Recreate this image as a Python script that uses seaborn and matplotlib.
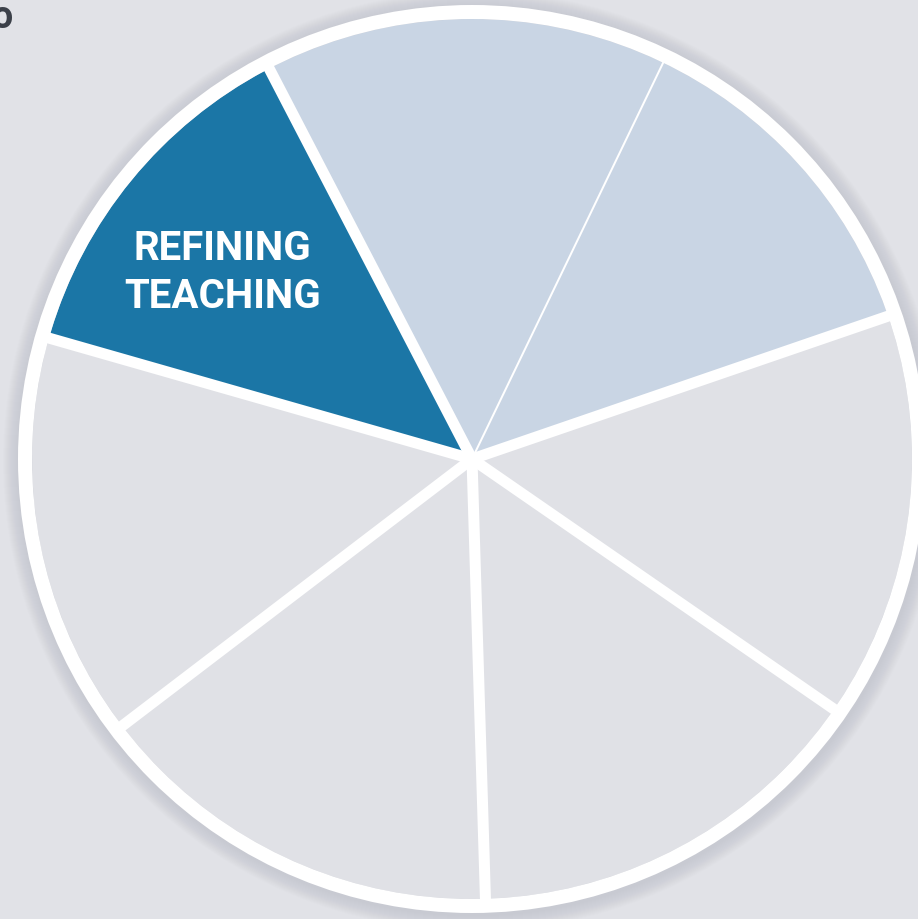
import numpy as np
import matplotlib
matplotlib.use("Agg")
import matplotlib.pyplot as plt
import seaborn as sns
from matplotlib.patches import Circle

# ---- data ----
segments = ["Refining teaching", "Segment 2", "Segment 3", "Segment 4",
            "Segment 5", "Segment 6", "Segment 7"]
shares = [46.6, 53.2, 45.3, 53.6, 53.6, 54.4, 53.3]   # degrees of the wheel
labels = ["REFINING\nTEACHING", "", "", "", "", "", ""]
title_fragment = "o"

# ---- style ----
bg = "#e1e2e7"
colors = ["#1b76a6", "#c9d5e4", "#c9d5e4", "#e0e1e6", "#e0e1e6", "#e0e1e6", "#e0e1e6"]
boundary_widths_px = [11, 11, 2, 11, 11, 11, 11]  # boundary at start of each segment

sns.set_theme(style="white")
plt.rcParams['font.family'] = ['Roboto', 'DejaVu Sans']

W, H = 918, 920
fig = plt.figure(figsize=(W / 100, H / 100), dpi=100, facecolor=bg)
ax = fig.add_axes([0, 0, 1, 1])
ax.set_facecolor(bg)
PX = 0.72  # points per pixel at 100 dpi

cx, cy = 472, H - 460
R = 440
ring_w = 14

# soft shadow
for i in range(16):
    ax.add_patch(Circle((cx + 1, cy - 2), R + ring_w + 16 - i, facecolor="#7a7d88",
                        edgecolor="none", alpha=0.012, zorder=1))

start = 164.05
wedges, texts = ax.pie(shares, colors=colors, labels=labels, startangle=start,
                       counterclock=False, radius=R, center=(cx, cy),
                       labeldistance=0.715, frame=True,
                       wedgeprops=dict(linewidth=0, edgecolor="white", zorder=2),
                       textprops=dict(color="white", fontsize=29, fontweight="bold",
                                      linespacing=1.36))
for t in texts:
    t.set_ha("center")
    t.set_va("center")
    t.set_zorder(5)
    x, y = t.get_position()
    if t.get_text():
        t.set_position((x - 6, y - 12))

# radial separators derived from cumulative shares
bounds = start - np.concatenate([[0], np.cumsum(shares)[:-1]])
for ang, lw in zip(bounds, boundary_widths_px):
    a = np.deg2rad(ang)
    ax.plot([cx, cx + (R + 2) * np.cos(a)], [cy, cy + (R + 2) * np.sin(a)],
            color="white", lw=lw * PX, solid_capstyle="butt", zorder=3)

# outer white ring
ax.add_patch(Circle((cx, cy), R + ring_w / 2, facecolor="none", edgecolor="white",
                    lw=ring_w * PX, zorder=4))

ax.text(13, H - 18, title_fragment, ha="right", va="center", fontsize=27,
        fontweight="bold", color="#3b4049", family=["Roboto", "DejaVu Sans"])

ax.set_xlim(0, W)
ax.set_ylim(0, H)
ax.set_aspect("equal")
ax.axis("off")

fig.savefig("out.png", dpi=100, facecolor=bg)
